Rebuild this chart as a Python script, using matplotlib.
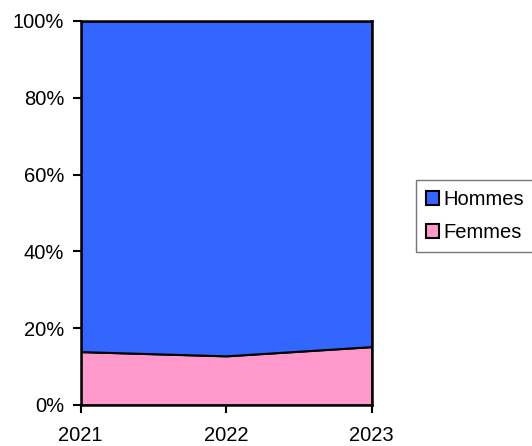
import matplotlib.pyplot as plt
from matplotlib.patches import Patch

years = ['2021', '2022', '2023']
femmes = [13.9, 12.8, 15.2]
hommes = [100 - f for f in femmes]

plt.rcParams['font.family'] = ['Liberation Sans', 'DejaVu Sans']

fig = plt.figure(figsize=(5.32, 4.46), dpi=100)
ax = fig.add_axes([80.7 / 532, 41 / 446, 291 / 532, 384 / 446])

x = range(len(years))
ax.stackplot(x, femmes, hommes, colors=['#FF99CC', '#3366FF'],
             edgecolor='black', linewidth=1.5)
ax.set_xlim(0, len(years) - 1)
ax.set_ylim(0, 100)
ax.set_xticks(list(x))
ax.set_xticklabels(years)
ax.set_yticks(range(0, 101, 20))
ax.set_yticklabels([f'{v}%' for v in range(0, 101, 20)])
ax.tick_params(direction='out', length=6, width=1.5, labelsize=14.5, pad=6)
ax.tick_params(axis='x', pad=9)
for s in ax.spines.values():
    s.set_linewidth(1.8)

handles = [Patch(facecolor='#3366FF', edgecolor='black', linewidth=1.5, label='Hommes'),
           Patch(facecolor='#FF99CC', edgecolor='black', linewidth=1.5, label='Femmes')]
fig.legend(handles=handles, loc='upper left', bbox_to_anchor=(416 / 532, 1 - 180 / 446),
           fontsize=14.5, frameon=True, fancybox=False, edgecolor='#555555',
           handlelength=0.65, handleheight=0.65, handletextpad=0.2, borderpad=0.5,
           labelspacing=0.7, borderaxespad=0)

fig.savefig('out.png', dpi=100)
